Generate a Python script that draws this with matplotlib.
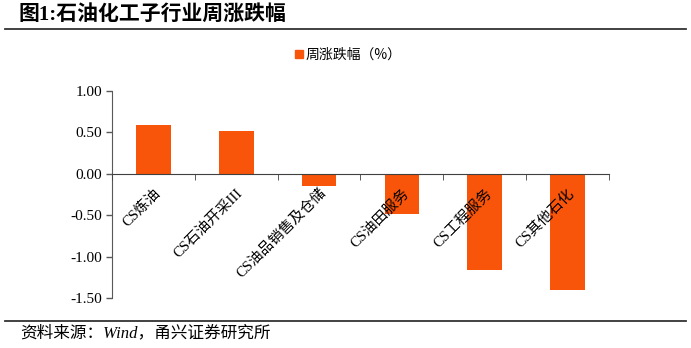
import matplotlib
matplotlib.use("Agg")
import matplotlib.pyplot as plt
from matplotlib.patches import Rectangle
from matplotlib.lines import Line2D

categories = ["CS炼油", "CS石油开采III", "CS油品销售及仓储", "CS油田服务", "CS工程服务", "CS其他石化"]
values = [0.59, 0.52, -0.15, -0.48, -1.16, -1.40]
yticks = [1.00, 0.50, 0.00, -0.50, -1.00, -1.50]
title = "图1:石油化工子行业周涨跌幅"
legend_label = "周涨跌幅（%）"
source = "资料来源：Wind，甬兴证券研究所"

FONT = ["Liberation Serif", "Noto Sans CJK SC"]
plt.rcParams["font.family"] = FONT

W, H = 691, 348
fig = plt.figure(figsize=(W / 100, H / 100), dpi=100)
ax = fig.add_axes([112 / W, 1 - 298 / H, (609 - 112) / W, (298 - 91) / H])

color = "#F9550A"
x = list(range(len(categories)))
ax.bar(x, values, width=0.42, color=color, zorder=2)
ax.set_axisbelow(False)

ax.set_xlim(-0.5, len(categories) - 0.5)
ax.set_ylim(-1.5, 1.0)
ax.set_yticks(yticks)
ax.set_yticklabels([f"{v:.2f}" for v in yticks], fontsize=11)
ax.tick_params(axis="y", direction="out", length=4, color="#595959", width=1, pad=3)

for s in ["top", "right"]:
    ax.spines[s].set_visible(False)
ax.spines["left"].set_color("#595959")
ax.spines["bottom"].set_position(("data", 0))
ax.spines["bottom"].set_color("#404040")
ax.spines["bottom"].set_zorder(3)

ax.set_xticks(x)
ax.set_xticklabels(categories, rotation=45, ha="right", va="top",
                   rotation_mode="anchor", fontsize=10.5)
ax.tick_params(axis="x", which="major", length=0, pad=9)
ax.set_xticks([i - 0.5 for i in range(len(categories) + 1)], minor=True)
ax.tick_params(axis="x", which="minor", direction="out", length=4, color="#404040")

# title & rules
fig.text(18 / W, 1 - 15 / H, title, fontsize=15, fontweight="bold",
         ha="left", va="center", family=FONT)
fig.add_artist(Line2D([5 / W, 686 / W], [1 - 29 / H, 1 - 29 / H], color="#333333", lw=1.3))
fig.add_artist(Line2D([5 / W, 686 / W], [1 - 321 / H, 1 - 321 / H], color="#333333", lw=1.3))
fig.text(20 / W, 1 - 333 / H, source, fontsize=12, style="italic",
         ha="left", va="center", family=FONT)

# legend
fig.add_artist(Rectangle((295 / W, 1 - 58 / H), 8 / W, 8 / H, color=color,
                         transform=fig.transFigure))
fig.text(306 / W, 1 - 55 / H, legend_label, fontsize=10, ha="left", va="center",
         family=["Noto Sans CJK SC"])

fig.savefig("out.png", dpi=100)
